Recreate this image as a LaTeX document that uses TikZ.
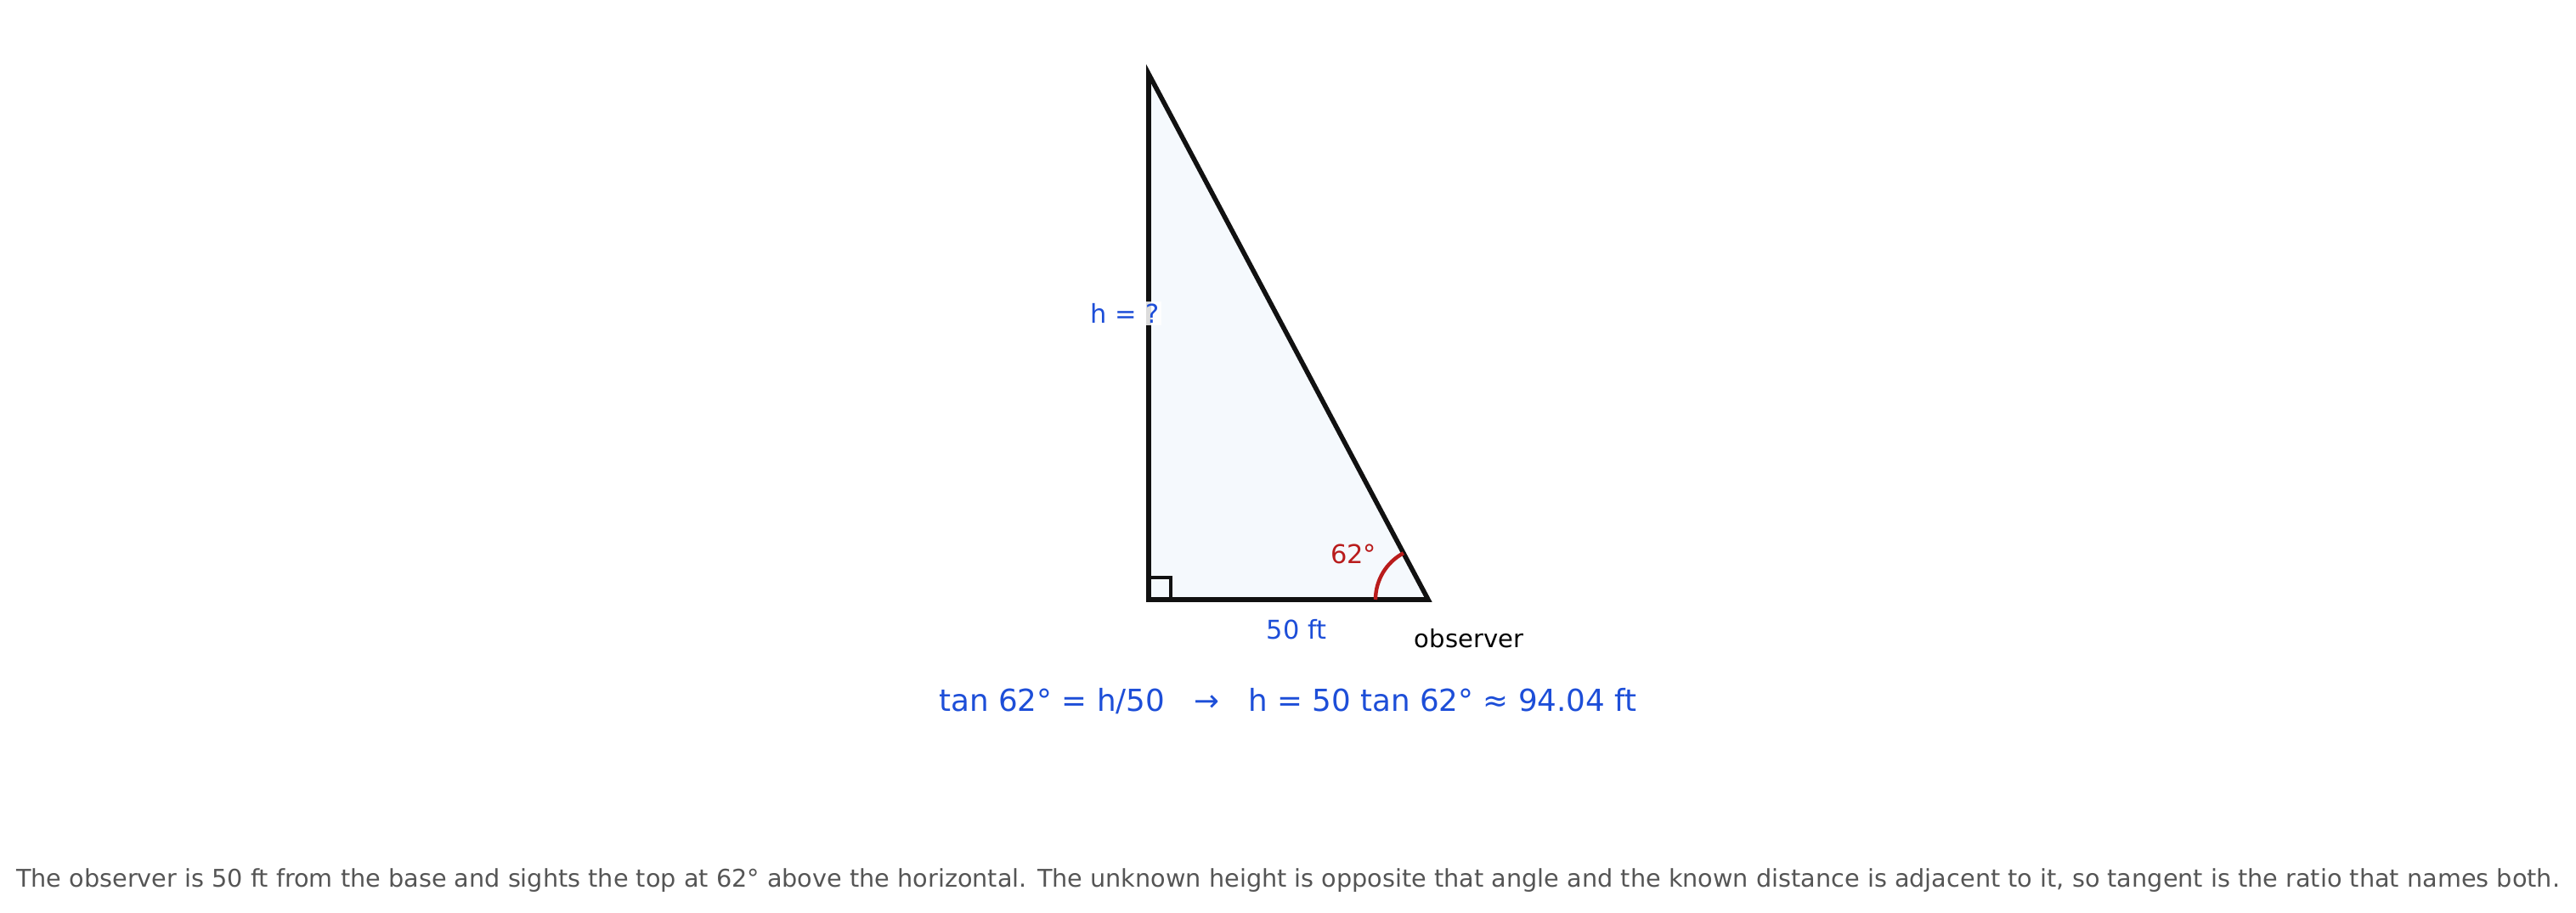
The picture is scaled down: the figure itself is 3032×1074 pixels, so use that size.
\documentclass[tikz,border=0pt]{standalone}
\usepackage{fontspec}
\setmainfont{DejaVu Sans}
\definecolor{eqblue}{RGB}{29,78,216}
\definecolor{angred}{RGB}{185,28,28}
\definecolor{capgray}{RGB}{85,85,85}
\definecolor{trifill}{RGB}{245,249,253}
\definecolor{edgeblack}{RGB}{17,17,17}
\tikzset{
  sidelabel/.style={text=eqblue,font=\fontsize{11}{13}\selectfont,inner sep=1pt},
}
\begin{document}
\begin{tikzpicture}[x=0.0127cm,y=0.0127cm]
  \useasboundingbox (0,0) rectangle (3032,1074);
  \coordinate (base) at (1352,368);
  \coordinate (top) at (1352,987);
  \coordinate (obs) at (1681,368);
  % triangle
  \draw[edgeblack,line width=2pt,fill=trifill,line join=miter](top)--(base)--(obs)--cycle;
  \draw[edgeblack,line width=1.1pt]([shift={(0,26)}]base)--++(26,0)--++(0,-26);
  \draw[angred,line width=1.6pt]([shift=(180:62)]obs)arc(180:118:62);
  % labels
  \node[sidelabel,fill=white,fill opacity=0.85,text opacity=1] (hlab) at (1324,705) {h = ?};
  \node[text=angred,font=\fontsize{11}{13}\selectfont] (anglab) at (1593,422) {62°};
  \node[sidelabel] (baselab) at (1526,333) {50 ft};
  \node[font=\fontsize{10.5}{13}\selectfont] (obslab) at (1729,322) {observer};
  \node[text=eqblue,font=\fontsize{12.9}{15}\selectfont] (eq) at (1516,248)
    {tan 62° = h/50 \ \ → \ \ h = 50 tan 62° ≈ 94.04 ft};
  \node[text=capgray,font=\fontsize{10.37}{12}\selectfont] (caption) at (1516,37)
    {The observer is 50 ft from the base and sights the top at 62° above the horizontal. The unknown height is opposite that angle and the known distance is adjacent to it, so tangent is the ratio that names both.};
\end{tikzpicture}
\end{document}
